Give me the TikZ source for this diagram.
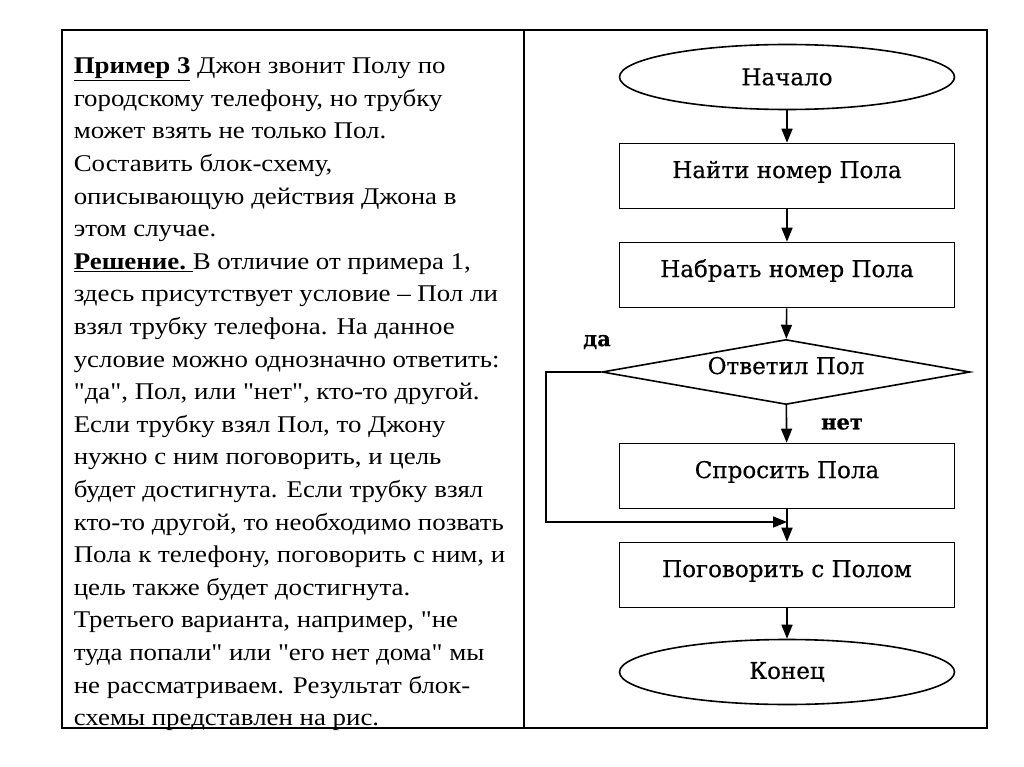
\documentclass[tikz,border=0pt]{standalone}
\usepackage{fontspec}
\setmainfont{Liberation Serif}[FakeStretch=1.12,Ligatures=TeXOff]
\newfontfamily\chartfont{DejaVu Serif}[FakeBold=0.5]
\usetikzlibrary{shapes.geometric,arrows.meta}
\tikzset{
    >={Triangle[length=14pt,width=11pt]},
    every edge/.style={draw,->,line width=1.6pt}
}

\begin{document}
\begin{tikzpicture}[x=1pt,y=-1pt,line width=1.6pt,
                    block/.style={rectangle,draw,minimum width=335pt,minimum height=65pt,
                                  text height=16pt,text depth=12pt,
                                  font=\chartfont\fontsize{23}{26}\selectfont},
                    term/.style={ellipse,draw,minimum width=335pt,minimum height=65pt,
                                 inner sep=0pt,font=\chartfont\fontsize{23}{26}\selectfont},
                    cond/.style={diamond,draw,aspect=5.66,minimum width=368pt,
                                 minimum height=65pt,inner sep=0pt,
                                 text height=16pt,text depth=12pt,
                                 font=\chartfont\fontsize{23}{26}\selectfont},
                    lbl/.style={font=\chartfont\fontsize{21}{24}\selectfont\bfseries}]

\useasboundingbox (0,0) rectangle (1024,767);

% Table
\draw (62,30) rectangle (987,728);
\draw (524,30) -- (524,728);

% Text
\node[anchor=north west,inner sep=0pt,align=left,
      font=\fontsize{24}{32.6}\selectfont] (txt) at (73,57)
  {\underline{\textbf{Пример 3}} Джон звонит Полу по\\
   городскому телефону, но трубку\\
   может взять не только Пол.\\
   Составить блок-схему,\\
   описывающую действия Джона в\\
   этом случае.\\
   \underline{\textbf{Решение.}\ }В отличие от примера 1,\\
   здесь присутствует условие – Пол ли\\
   взял трубку телефона. На данное\\
   условие можно однозначно ответить:\\
   "да", Пол, или "нет", кто-то другой.\\
   Если трубку взял Пол, то Джону\\
   нужно с ним поговорить, и цель\\
   будет достигнута. Если трубку взял\\
   кто-то другой, то необходимо позвать\\
   Пола к телефону, поговорить с ним, и\\
   цель также будет достигнута.\\
   Третьего варианта, например, "не\\
   туда попали" или "его нет дома" мы\\
   не рассматриваем. Результат блок-\\
   схемы представлен на рис.};

% Flowchart
\node[term] (start) at (787,77) {Начало};
\node[block] (find) at (787,176) {Найти номер Пола};
\node[block] (dial) at (787,275) {Набрать номер Пола};
\node[cond] (ans) at (786,372) {Ответил Пол};
\node[block] (ask) at (787,476) {Спросить Пола};
\node[block] (talk) at (787,575) {Поговорить с Полом};
\node[term] (stop) at (787,672) {Конец};
\coordinate (join) at (787,522);

\node[lbl] (yes) at (597,342) {да};
\node[lbl] (no) at (842,424) {нет};

\path (start) edge (find);
\path (find) edge (dial);
\path (dial) edge (ans);
\path (ans) edge (ask);
\path (ask) edge (talk);
\path (talk) edge (stop);
\draw[->] (ans.west) -- ++(-55,0) |- (join);

\end{tikzpicture}
\end{document}
